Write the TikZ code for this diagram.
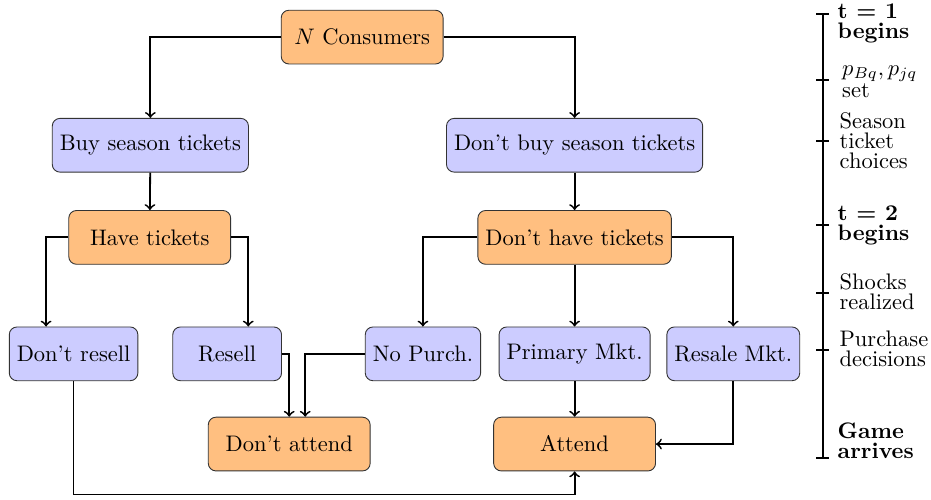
\documentclass[tikz,border=0pt]{standalone}
\usepackage{amsmath}
\usepackage{latexsym,amssymb}
\usepackage{xcolor}

\tikzset{
  have/.style={draw=black!80, fill=orange!50, rounded corners=0.12cm, minimum width=2.53cm, minimum height=0.84cm},
  choice/.style={draw=black!80, fill=blue!20, rounded corners=0.12cm, minimum width=1.7cm, minimum height=0.84cm},
  flow/.style={->, thick},
  stage/.style={anchor=west, align=left, font={\linespread{0.75}\selectfont}, inner sep=1pt}
}

\begin{document}
\begin{tikzpicture}

\useasboundingbox (0,0) rectangle (14.55,-7.8);

% 1st tier:
\node[have] (cons) at (5.66,-0.58) {$N$ Consumers};

% 2nd tier:
\node[choice] (buy) at (2.35,-2.27) {Buy season tickets};
\node[choice] (nobuy) at (8.98,-2.27) {Don't buy season tickets};

\draw[flow] (cons.west) -| (buy.north);
\draw[flow] (cons.east) -| (nobuy.north);

% 3rd tier:
\node[have] (have) at (2.34,-3.71) {Have tickets};
\node[have] (nohave) at (8.98,-3.71) {Don't have tickets};

\draw[flow] (buy) -- (have);
\draw[flow] (nobuy) -- (nohave);

% 4th tier:
\node[choice] (noresell) at (1.15,-5.53) {Don't resell};
\node[choice] (resell) at (3.55,-5.53) {Resell};
\node[choice] (nopurch) at (6.61,-5.53) {No Purch.};
\node[choice] (primary) at (8.98,-5.53) {Primary Mkt.};
\node[choice] (resale) at (11.46,-5.53) {Resale Mkt.};

\draw[flow] (have.west) -| ([xshift=-0.43cm]noresell.north);
\draw[flow] (have.east) -| ([xshift=0.33cm]resell.north);
\draw[flow] (nohave.west) -| (nopurch.north);
\draw[flow] (nohave) -- (primary);
\draw[flow] (nohave.east) -| (resale.north);

% 5th tier:
\node[have] (noattend) at (4.52,-6.94) {Don't attend};
\node[have] (attend) at (8.98,-6.94) {Attend};

\draw[flow] (resell.east) -| (noattend.north);
\draw[flow] (nopurch.west) -| ([xshift=0.25cm]noattend.north);
\draw[flow] (primary) -- (attend);
\draw[flow] (resale.south) |- (attend.east);
\draw[flow] (noresell.south) |- ([yshift=-0.36cm]attend.south) -- (attend.south);

% timeline:
\draw[very thick] (12.86,-0.22) coordinate(top) -- (12.86,-7.16) coordinate(bot);
\foreach \y in {-0.22,-1.25,-2.20,-3.52,-4.58,-5.47,-7.16}
  \draw[thick] (12.76,\y) -- (12.95,\y);

\node[stage] (s1) at (13.05,-0.36) {\textbf{t = 1}\\\textbf{begins}};
\node[stage] (s2) at (13.12,-1.28) {$p_{Bq},p_{jq}$\\set};
\node[stage] (s3) at (13.08,-2.20) {Season\\ticket\\choices};
\node[stage] (s4) at (13.05,-3.52) {\textbf{t = 2}\\\textbf{begins}};
\node[stage] (s5) at (13.08,-4.56) {Shocks\\realized};
\node[stage] (s6) at (13.08,-5.45) {Purchase\\decisions};
\node[stage] (s7) at (13.05,-6.89) {\textbf{Game}\\\textbf{arrives}};

\end{tikzpicture}
\end{document}
